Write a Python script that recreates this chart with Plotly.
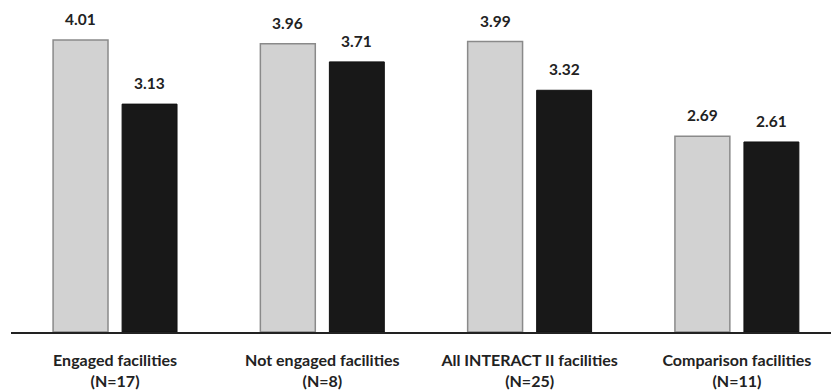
import plotly.graph_objects as go

categories = ["Engaged facilities<br>(N=17)", "Not engaged facilities<br>(N=8)",
              "All INTERACT II facilities<br>(N=25)", "Comparison facilities<br>(N=11)"]
series_a = [4.01, 3.96, 3.99, 2.69]
series_b = [3.13, 3.71, 3.32, 2.61]

FONT = "Lato"
bw = 0.265
fig = go.Figure()
fig.add_trace(go.Bar(x=categories, y=series_a, name="Series A", width=bw, offset=-0.299,
                     marker=dict(color="#d2d2d2", line=dict(color="#8a8a8a", width=1.5))))
fig.add_trace(go.Bar(x=categories, y=series_b, name="Series B", width=bw, offset=0.034,
                     marker=dict(color="#181818", line=dict(color="#111111", width=1))))

vfont = dict(family=FONT, size=15.5, color="#222", weight="bold")
ann = []
for i, (a, b) in enumerate(zip(series_a, series_b)):
    ann.append(dict(x=i - 0.1665, y=a, text=f"{a:.2f}", showarrow=False, yanchor="bottom",
                    yshift=10, font=vfont))
    ann.append(dict(x=i + 0.1665, y=b, text=f"{b:.2f}", showarrow=False, yanchor="bottom",
                    yshift=10, font=vfont))

fig.update_layout(
    width=831, height=390,
    margin=dict(l=11, r=0, t=0, b=58),
    plot_bgcolor="white", paper_bgcolor="white",
    showlegend=False, barmode="overlay",
    annotations=ann,
    font=dict(family=FONT, size=15, color="#222"),
)
fig.update_xaxes(range=[-0.502, 3.454], showline=True, linecolor="#222", linewidth=1.5,
                 ticks="", ticklabelstandoff=13, showgrid=False, automargin=False,
                 tickfont=dict(family=FONT, size=16, color="#222", weight="bold"))
fig.update_yaxes(range=[0, 4.56], visible=False, showgrid=False, automargin=False)

fig.write_html("out.html")
